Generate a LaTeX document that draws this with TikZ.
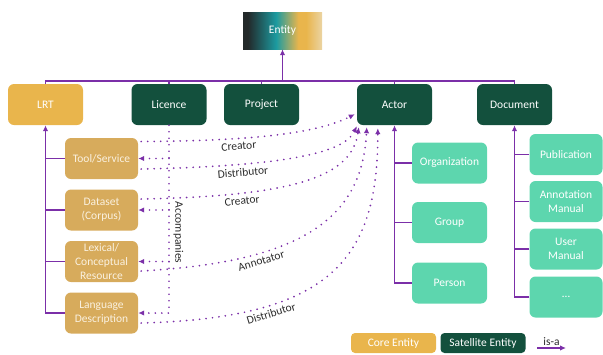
\documentclass[tikz,border=0pt]{standalone}
\usepackage{fontspec}
\setmainfont{Carlito}
\usetikzlibrary{arrows.meta}

\definecolor{isapurple}{HTML}{7B2FA8}
\definecolor{coregold}{HTML}{E9B54C}
\definecolor{satgreen}{HTML}{13503D}
\definecolor{subtan}{HTML}{D7AB5C}
\definecolor{tantext}{HTML}{FAF1E0}
\definecolor{mintgreen}{HTML}{5DD6AE}
\definecolor{lblgray}{HTML}{2B2B2B}
\definecolor{entdark}{HTML}{23292A}
\definecolor{entteal}{HTML}{1C9BA0}
\definecolor{entlight}{HTML}{EBD4A3}

\pgfdeclarehorizontalshading{entityshade}{100bp}{color(0bp)=(entdark); color(28bp)=(entdark);
  color(46bp)=(entteal); color(60bp)=(coregold); color(65bp)=(coregold); color(75bp)=(entlight);
  color(100bp)=(entlight)}

\tikzset{
  tbox/.style={rounded corners=6pt, minimum width=75pt, minimum height=41pt, align=center,
    text=white, inner sep=2pt, font=\fontsize{11.5}{14}\selectfont},
  core/.style={tbox, fill=coregold},
  sat/.style={tbox, fill=satgreen},
  lrtsub/.style={tbox, fill=subtan, minimum width=73pt, text=tantext},
  mint/.style={tbox, fill=mintgreen},
  docsub/.style={minimum width=73pt},
  keybox/.style={minimum width=85pt, minimum height=20pt, rounded corners=4pt},
  entbox/.style={shading=entityshade, minimum width=79pt, minimum height=37pt, text=white,
    font=\fontsize{11.5}{14}\selectfont},
  isa/.style={draw=isapurple, line width=1.6pt},
  rel/.style={draw=isapurple, line width=1.9pt, dash pattern=on 0pt off 6.5pt, line cap=round},
  lbl/.style={text=lblgray, inner sep=1pt, font=\fontsize{11.5}{14}\selectfont}
}

\begin{document}
\begin{tikzpicture}[x=1pt, y=-1pt, >={Latex[length=6pt,width=5.5pt]}]
  \useasboundingbox (0,0) rectangle (603,354);
  \draw
    (282.5,30.5) node[entbox] (entity){Entity}
    (45.5,104.5) node[core] (lrt){LRT}
    (169,104.5) node[sat] (licence){Licence}
    (261.5,104.5) node[sat] (project){Project}
    (394.5,104.5) node[sat] (actor){Actor}
    (514.5,104.5) node[sat] (document){Document}
    (101.5,158.5) node[lrtsub] (tool){Tool/Service}
    (101.5,210) node[lrtsub] (dataset){Dataset\\(Corpus)}
    (101.5,261.5) node[lrtsub] (lexical){Lexical/\\Conceptual\\Resource}
    (101.5,313) node[lrtsub] (langdesc){Language\\Description}
    (449.5,163) node[mint] (org){Organization}
    (449.5,222.5) node[mint] (group){Group}
    (449.5,283) node[mint] (person){Person}
    (566,154.5) node[mint,docsub] (pub){Publication}
    (566,201.5) node[mint,docsub] (annot){Annotation\\Manual}
    (566,249) node[mint,docsub] (user){User\\Manual}
    (566,297) node[mint,docsub] (more){…}
    (393.5,343) node[core,keybox] (corekey){Core Entity}
    (483,343) node[sat,keybox] (satkey){Satellite Entity}
    (178.5,232.5) node[lbl,rotate=-90] (acc){Accompanies};
  \coordinate (bus) at (282.5,81);
  \coordinate (isafrom) at (537,348);
  \coordinate (isato) at (566,348);
  \begin{scope}[isa]
    \draw (lrt.north) -- (lrt.north |- bus) -- (document.north |- bus) -- (document.north);
    \draw (licence.north) -- (licence.north |- bus);
    \draw (project.north) -- (project.north |- bus);
    \draw (actor.north) -- (actor.north |- bus);
    \draw[->] (bus) -- (entity.south);
    \draw[->] (langdesc.west) -| (lrt.south);
    \draw (tool.west) -- (tool.west -| lrt.south);
    \draw (dataset.west) -- (dataset.west -| lrt.south);
    \draw (lexical.west) -- (lexical.west -| lrt.south);
    \draw[->] (person.west) -| (actor.south);
    \draw (org.west) -- (org.west -| actor.south);
    \draw (group.west) -- (group.west -| actor.south);
    \draw[->] (more.west) -| (document.south);
    \draw (pub.west) -- (pub.west -| document.south);
    \draw (annot.west) -- (annot.west -| document.south);
    \draw (user.west) -- (user.west -| document.south);
    \draw[->] (isafrom) -- node[lbl, above=1pt]{is-a} (isato);
  \end{scope}
  \begin{scope}[rel]
    \draw[->] (licence.south) |- (langdesc.east);
    \draw[->] (licence.south |- tool.east) -- (tool.east);
    \draw[->] (licence.south |- dataset.east) -- (dataset.east);
    \draw[->] (licence.south |- lexical.east) -- (lexical.east);
    \draw[->] ([xshift=3pt,yshift=17pt]tool.east) .. controls (260,141) and (320,132) ..
      node[lbl, pos=0.32, below=2pt, sloped]{Creator} ([xshift=-2pt,yshift=11pt]actor.south west);
    \draw[->] ([xshift=3pt,yshift=-10.5pt]tool.east) .. controls (290,166) and (345,152) ..
      node[lbl, pos=0.27, below=2pt, sloped]{Distributor} ([yshift=-1pt]actor.south west);
    \draw[->] ([xshift=3pt,yshift=11pt]dataset.east) .. controls (300,196) and (352,175) ..
      node[lbl, pos=0.25, below=2pt, sloped]{Creator} ([xshift=2pt,yshift=-2pt]actor.south west);
    \draw[->] ([xshift=3pt,yshift=-9.5pt]lexical.east) .. controls (300,262) and (362,220) ..
      node[lbl, pos=0.3, below=2pt, sloped]{Annotator} ([xshift=10pt,yshift=-2pt]actor.south west);
    \draw[->] ([xshift=3pt,yshift=-10pt]langdesc.east) .. controls (330,318) and (378,260) ..
      node[lbl, pos=0.28, below=2pt, sloped]{Distributor} ([xshift=21pt,yshift=-3pt]actor.south west);
  \end{scope}
\end{tikzpicture}
\end{document}
